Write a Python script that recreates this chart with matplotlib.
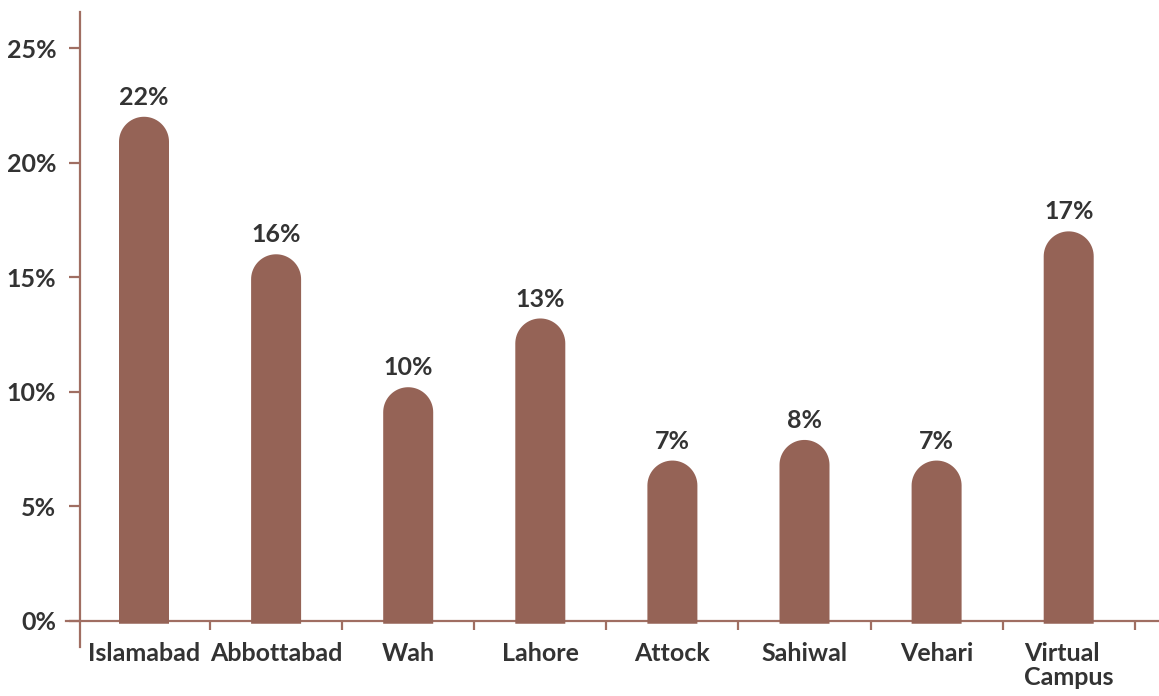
import matplotlib
matplotlib.use("Agg")
import numpy as np
import matplotlib.pyplot as plt
from matplotlib.patches import Polygon

campuses = ["Islamabad", "Abbottabad", "Wah", "Lahore", "Attock", "Sahiwal", "Vehari", "Virtual\nCampus"]
shares = [22.0, 16.0, 10.2, 13.2, 7.0, 7.9, 7.0, 17.0]
value_labels = ["22%", "16%", "10%", "13%", "7%", "8%", "7%", "17%"]
y_ticks = [0, 5, 10, 15, 20, 25]

bar_color = "#956356"
axis_color = "#a06e62"
text_color = "#333333"

plt.rcParams["font.family"] = ["Lato", "DejaVu Sans"]
plt.rcParams["font.weight"] = "bold"

W, H = 1159, 696
fig = plt.figure(figsize=(W / 100, H / 100), dpi=100)
# axes box in pixels: left 66, right 1159, top 12, bottom 647
ax = fig.add_axes([66 / W, (H - 647) / H, (1159 - 66) / W, (647 - 12) / H])

step = 132.1  # pixels per category
x0 = 144      # pixel centre of first category
py = 22.92    # pixels per percent
ax.set_xlim((66 - x0) / step, (1159 - x0) / step)
ax.set_ylim(-(647 - 621) / py, (621 - 12) / py)

bar_w = 50 / step
r_y = 25 / py
t = np.linspace(np.pi, 0, 40)
for i, v in enumerate(shares):
    base = -0.12
    cap_x = i + bar_w / 2 * np.cos(t)
    cap_y = v - r_y + r_y * np.sin(t)
    xs = np.concatenate([[i - bar_w / 2], cap_x, [i + bar_w / 2]])
    ys = np.concatenate([[base], cap_y, [base]])
    ax.add_patch(Polygon(np.column_stack([xs, ys]), closed=True,
                         facecolor=bar_color, edgecolor="none", zorder=3))
    ax.text(i, v + 0.52, value_labels[i], ha="center", va="baseline",
            fontsize=18, fontweight="bold", color=text_color)

for s in ["top", "right"]:
    ax.spines[s].set_visible(False)
ax.spines["left"].set_position(("data", (80 - x0) / step))
ax.spines["bottom"].set_position(("data", 0))
for s in ["left", "bottom"]:
    ax.spines[s].set_color(axis_color)
    ax.spines[s].set_linewidth(1.6)
    ax.spines[s].set_zorder(1)

ax.set_yticks(y_ticks)
ax.set_yticklabels([f"{t}%" for t in y_ticks])
ax.tick_params(axis="y", direction="out", length=8, width=1.6, color=axis_color,
               labelsize=18, labelcolor=text_color, pad=9)

ax.set_xticks(range(len(campuses)))
ax.set_xticklabels(campuses, va="top", linespacing=1.05)
ax.set_xticks([i + 0.5 for i in range(len(campuses))], minor=True)
ax.tick_params(axis="x", which="major", length=0, labelsize=18,
               labelcolor=text_color, pad=15)
ax.tick_params(axis="x", which="minor", direction="out", length=6.5, width=1.6,
               color=axis_color)
for lbl in ax.get_xticklabels() + ax.get_yticklabels():
    lbl.set_fontweight("bold")
    lbl.set_multialignment("left")

fig.savefig("out.png", dpi=100)
